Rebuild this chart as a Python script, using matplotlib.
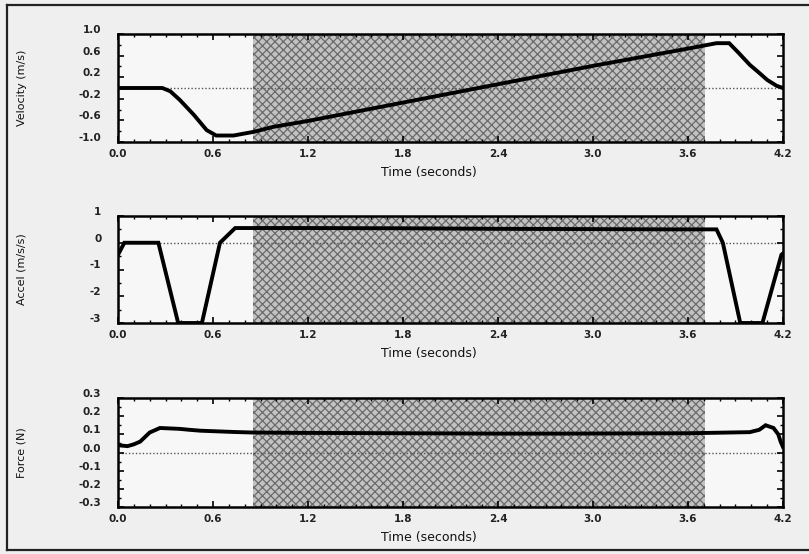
import matplotlib
matplotlib.use("Agg")
import matplotlib.pyplot as plt
from matplotlib.lines import Line2D
from matplotlib.ticker import MultipleLocator
import matplotlib.transforms as mtransforms

# ---------------- data ----------------
time_ticks = [0.0, 0.6, 1.2, 1.8, 2.4, 3.0, 3.6, 4.2]
time_tick_labels = ["0.0", "0.6", "1.2", "1.8", "2.4", "3.0", "3.6", "4.2"]

fit_start = 0.85
fit_end = 3.71

vel_t = [0.0, 0.28, 0.33, 0.39, 0.48, 0.56, 0.62, 0.73, 0.86, 0.98, 1.2, 1.5,
         1.8, 2.1, 2.4, 2.7, 3.0, 3.3, 3.6, 3.78, 3.86, 3.92, 3.99, 4.05, 4.10,
         4.16, 4.2]
vel_v = [0.0, 0.0, -0.06, -0.22, -0.5, -0.78, -0.88, -0.88, -0.81, -0.72, -0.61,
         -0.44, -0.27, -0.10, 0.07, 0.24, 0.41, 0.57, 0.73, 0.83, 0.83, 0.65,
         0.43, 0.28, 0.15, 0.04, 0.0]
vel_ticks = [1.0, 0.6, 0.2, -0.2, -0.6, -1.0]

acc_t = [0.0, 0.04, 0.255, 0.38, 0.53, 0.644, 0.74, 1.2, 1.8, 2.4, 3.0, 3.5,
         3.78, 3.82, 3.93, 4.07, 4.19, 4.2]
acc_a = [-0.45, 0.0, 0.0, -3.0, -3.0, 0.0, 0.55, 0.55, 0.54, 0.52, 0.51, 0.5,
         0.5, 0.0, -3.0, -3.0, -0.45, -0.4]
acc_ticks = [1, 0, -1, -2, -3]

frc_t = [0.0, 0.06, 0.10, 0.14, 0.2, 0.265, 0.39, 0.45, 0.52, 0.73, 0.85, 1.15,
         1.5, 1.78, 2.1, 2.4, 2.8, 3.2, 3.6, 3.99, 4.05, 4.09, 4.14, 4.17,
         4.185, 4.2]
frc_f = [0.04, 0.035, 0.045, 0.06, 0.11, 0.135, 0.13, 0.125, 0.12, 0.113,
         0.11, 0.108, 0.107, 0.106, 0.105, 0.104, 0.104, 0.105, 0.106, 0.112,
         0.125, 0.15, 0.135, 0.1, 0.06, 0.03]
frc_ticks = [0.3, 0.2, 0.1, 0.0, -0.1, -0.2, -0.3]
frc_tick_labels = ["0.3", "0.2", "0.1", "0.0", "-0.1", "-0.2", "-0.3"]

# ---------------- figure ----------------
W, H = 809, 554
fig = plt.figure(figsize=(W / 100, H / 100), dpi=100)
fig.patch.set_facecolor("#efefef")
plt.rcParams["hatch.linewidth"] = 0.9
plt.rcParams["font.family"] = ["DejaVu Sans"]


def px_rect(left, top, right, bottom):
    return [left / W, (H - bottom) / H, (right - left) / W, (bottom - top) / H]


panels = [
    dict(rect=px_rect(118, 34, 783, 142), t=vel_t, y=vel_v, ylim=(-1.0, 1.0),
         yticks=vel_ticks, ylabels=["1.0", "0.6", "0.2", "-0.2", "-0.6", "-1.0"],
         yminor=0.2, ylabel="Velocity (m/s)"),
    dict(rect=px_rect(118, 216, 783, 323), t=acc_t, y=acc_a, ylim=(-3.0, 1.0),
         yticks=acc_ticks, ylabels=[str(v) for v in acc_ticks],
         yminor=0.5, ylabel="Accel (m/s/s)"),
    dict(rect=px_rect(118, 398, 783, 507), t=frc_t, y=frc_f, ylim=(-0.3, 0.3),
         yticks=frc_ticks, ylabels=frc_tick_labels,
         yminor=0.05, ylabel="Force (N)"),
]

label_offset = mtransforms.ScaledTranslation(0, 5 / 100, fig.dpi_scale_trans)

for p in panels:
    ax = fig.add_axes(p["rect"])
    ax.set_facecolor("#f7f7f7")
    ax.axvspan(fit_start, fit_end, facecolor="#c2c2c2", edgecolor="#6a6a6a",
               hatch="xxxx", linewidth=0, zorder=0)
    ax.axhline(0, color="#555555", linestyle=(0, (1, 1.5)), linewidth=1.0,
               zorder=1)
    ax.plot(p["t"], p["y"], color="black", linewidth=2.8, zorder=3,
            solid_joinstyle="miter", clip_on=True)
    ax.set_xlim(0, 4.2)
    ax.set_ylim(*p["ylim"])
    ax.set_xticks(time_ticks)
    ax.set_xticklabels(time_tick_labels)
    ax.set_yticks(p["yticks"])
    ax.set_yticklabels(p["ylabels"])
    ax.xaxis.set_minor_locator(MultipleLocator(0.1))
    ax.yaxis.set_minor_locator(MultipleLocator(p["yminor"]))
    ax.tick_params(which="both", direction="in", top=True, right=True,
                   colors="black", labelsize=7.5)
    ax.tick_params(which="major", length=4, width=1.2)
    ax.tick_params(which="minor", length=2.5, width=1.0)
    ax.tick_params(axis="x", pad=5)
    ax.tick_params(axis="y", pad=12)
    for lab in ax.get_xticklabels() + ax.get_yticklabels():
        lab.set_fontweight("bold")
        lab.set_color("#222222")
    for lab in ax.get_yticklabels():
        lab.set_transform(lab.get_transform() + label_offset)
    for s in ax.spines.values():
        s.set_linewidth(1.8)
        s.set_color("black")
    ax.set_xlabel("Time (seconds)", fontsize=9, color="#111111")
    ax.xaxis.set_label_coords(0.468, -0.22)
    ax.set_ylabel(p["ylabel"], fontsize=8, color="#111111")
    ax.yaxis.set_label_coords(-0.137, 0.5)

# outer frame (open on the right side)
lw = 1.6
fig.add_artist(Line2D([7 / W, 1.0], [1 - 5 / H, 1 - 5 / H], color="#222222",
                      linewidth=lw, transform=fig.transFigure))
fig.add_artist(Line2D([7 / W, 1.0], [4 / H, 4 / H], color="#222222",
                      linewidth=lw, transform=fig.transFigure))
fig.add_artist(Line2D([7 / W, 7 / W], [4 / H, 1 - 5 / H], color="#222222",
                      linewidth=lw, transform=fig.transFigure))

fig.savefig("out.png", dpi=100, facecolor=fig.get_facecolor())
